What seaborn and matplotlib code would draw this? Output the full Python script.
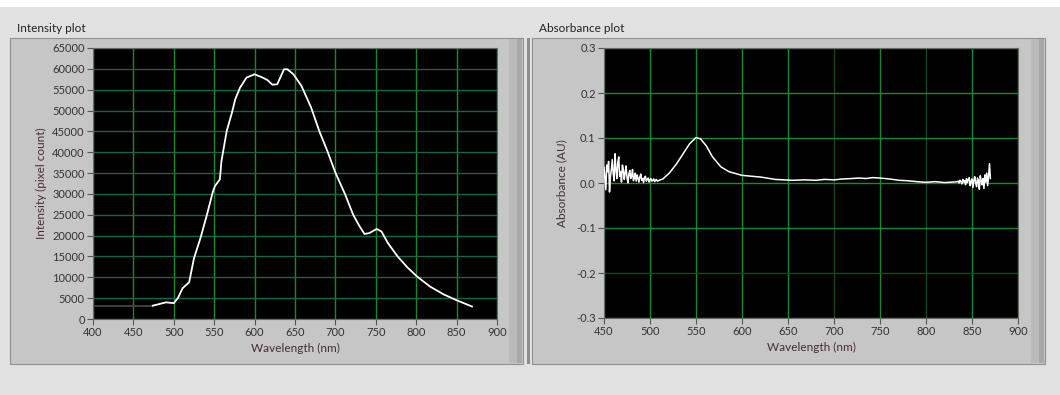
import numpy as np
import pandas as pd
import matplotlib
matplotlib.use("Agg")
import matplotlib.pyplot as plt
from matplotlib.patches import Rectangle
import seaborn as sns

# ---------------- data ----------------
intensity_wl = [474, 490.5, 500, 505, 511, 519, 525, 533, 541, 548.5, 551, 557, 559,
                565.5, 572, 576, 582, 590, 600, 610, 616, 622, 628, 636.5, 640.5,
                648, 658, 670, 680, 690, 700, 712, 722, 730, 736, 742, 751, 757,
                765, 777, 789, 801, 817, 834, 850, 869]
intensity_val = [3200, 4000, 3800, 5000, 7400, 8800, 14600, 19400, 25000, 30650, 31900,
                 33500, 37900, 45100, 49500, 52700, 55500, 57900, 58700, 57900, 57300,
                 56200, 56300, 59900, 59900, 58700, 55900, 50700, 45100, 40300, 35100,
                 29900, 25000, 22200, 20400, 20600, 21600, 21000, 18200, 15000, 12400,
                 10200, 7800, 5900, 4500, 3000]
baseline_wl = [400, 474]
baseline_val = [3000, 3000]

absorb_left_wl = list(range(450, 511))
absorb_left_val = [0.035, 0.010, -0.015, 0.040, 0.025, 0.048, -0.020, 0.015, 0.030, 0.052,
                   0.020, 0.005, 0.065, 0.030, 0.010, 0.045, 0.058, 0.015, 0.025, 0.002,
                   0.040, 0.030, 0.008, 0.022, 0.038, 0.012, 0.000, 0.020, 0.028, 0.010,
                   0.015, 0.030, 0.005, 0.012, 0.022, 0.004, 0.018, 0.010, 0.002, 0.014,
                   0.020, 0.006, 0.010, 0.001, 0.012, 0.015, 0.004, 0.008, 0.011, 0.002,
                   0.007, 0.010, 0.004, 0.006, 0.009, 0.003, 0.006, 0.008, 0.004, 0.005,
                   0.006]
absorb_mid_wl = [514, 521, 529, 536, 543, 550, 555, 561, 568, 577, 586, 600, 610, 621,
                 636, 645, 655, 668, 680, 690, 700, 710, 720, 727, 735, 742, 750, 760,
                 771, 780, 790, 800, 810, 820, 829, 834]
absorb_mid_val = [0.009, 0.022, 0.043, 0.065, 0.087, 0.101, 0.098, 0.083, 0.058, 0.036,
                  0.025, 0.017, 0.015, 0.013, 0.008, 0.007, 0.006, 0.007, 0.006, 0.008,
                  0.007, 0.009, 0.010, 0.011, 0.010, 0.012, 0.011, 0.009, 0.006, 0.005,
                  0.003, 0.0015, 0.003, 0.001, 0.002, 0.003]
absorb_right_wl = list(range(835, 871))
absorb_right_val = [0.004, 0.000, 0.006, 0.003, -0.002, 0.008, 0.002, 0.005, -0.004, 0.010,
                    0.001, 0.007, 0.012, -0.006, 0.004, 0.009, -0.010, 0.006, 0.014, 0.000,
                    -0.008, 0.011, 0.003, -0.014, 0.016, 0.005, -0.004, 0.010, -0.012, 0.018,
                    0.002, 0.022, -0.006, 0.015, 0.043, 0.010]

int_xticks = list(range(400, 901, 50))
int_yticks = list(range(0, 65001, 5000))
abs_xticks = list(range(450, 901, 50))
abs_yticks = [-0.3, -0.2, -0.1, 0.0, 0.1, 0.2, 0.3]
abs_yticklabels = ["-0.3", "-0.2", "-0.1", "0.0", "0.1", "0.2", "0.3"]

# ---------------- figure ----------------
W, H = 1060, 395
fig = plt.figure(figsize=(W / 100, H / 100), dpi=100)
fig.patch.set_facecolor("#e1e1e1")
plt.rcParams['font.family'] = ['Lato', 'DejaVu Sans']

def px_rect(x0, y0, x1, y1, **kw):
    r = Rectangle((x0 / W, 1 - y1 / H), (x1 - x0) / W, (y1 - y0) / H,
                  transform=fig.transFigure, **kw)
    fig.add_artist(r)
    return r

# top white strip
px_rect(0, 0, W, 7, facecolor="white", edgecolor="none", zorder=0)
# panel frames
for (x0, x1) in [(10, 523), (532, 1045)]:
    px_rect(x0, 38, x1, 364, facecolor="#c6c6c6", edgecolor="#909090", linewidth=0.8, zorder=0)
    px_rect(x1 - 14, 39, x1 - 1, 363, facecolor="#bababa", edgecolor="none", zorder=0)
    px_rect(x1 - 6, 39, x1 - 1, 363, facecolor="#a8a8a8", edgecolor="none", zorder=0)
px_rect(527, 38, 530, 364, facecolor="#8c8c8c", edgecolor="none", zorder=0)

def ax_at(x0, y0, x1, y1):
    return fig.add_axes([x0 / W, 1 - y1 / H, (x1 - x0) / W, (y1 - y0) / H])

ax1 = ax_at(93, 48, 497, 319)
ax2 = ax_at(604, 48, 1018, 318)

bright = "#1b8a2e"
dim = "#0e4a1c"
teal = "#17664a"
tick_col = "#333333"
label_col = "#4a2a3a"

def style(ax):
    ax.set_facecolor("black")
    for s in ax.spines.values():
        s.set_color("#6a6a6a")
        s.set_linewidth(0.8)
    ax.tick_params(axis="both", colors="#555555", labelcolor=tick_col, labelsize=8,
                   length=4, width=0.8, direction="out", pad=2)
    ax.set_axisbelow(True)

# ---- intensity ----
df_int = pd.DataFrame({"wl": intensity_wl, "val": intensity_val})
df_base = pd.DataFrame({"wl": baseline_wl, "val": baseline_val})
sns.lineplot(data=df_base, x="wl", y="val", ax=ax1, color="#4a4a4a", linewidth=1.2, zorder=3)
sns.lineplot(data=df_int, x="wl", y="val", ax=ax1, color="white", linewidth=1.3, zorder=4)
ax1.set_xlim(400, 900)
ax1.set_ylim(0, 65000)
ax1.set_xticks(int_xticks)
ax1.set_yticks(int_yticks)
ax1.set_xticklabels([str(t) for t in int_xticks])
ax1.set_yticklabels([str(t) for t in int_yticks])
style(ax1)
ax1.grid(True, which="major", linewidth=1.0)
for ln in ax1.get_xgridlines():
    ln.set_color(bright)
for ln in ax1.get_ygridlines():
    ln.set_color(teal)
ax1.set_xlabel("Wavelength (nm)", color=label_col, fontsize=8.5, labelpad=3)
ax1.set_ylabel("Intensity (pixel count)", color=label_col, fontsize=8.5, labelpad=4)

# ---- absorbance ----
df_a1 = pd.DataFrame({"wl": absorb_left_wl, "val": absorb_left_val})
df_a2 = pd.DataFrame({"wl": absorb_mid_wl, "val": absorb_mid_val})
df_a3 = pd.DataFrame({"wl": absorb_right_wl, "val": absorb_right_val})
df_abs = pd.concat([df_a1, df_a2, df_a3], ignore_index=True)
sns.lineplot(data=df_abs, x="wl", y="val", ax=ax2, color="white", linewidth=1.1,
             zorder=4, estimator=None, sort=True)
ax2.set_xlim(450, 900)
ax2.set_ylim(-0.3, 0.3)
ax2.set_xticks(abs_xticks)
ax2.set_yticks(abs_yticks)
ax2.set_xticklabels([str(t) for t in abs_xticks])
ax2.set_yticklabels(abs_yticklabels)
style(ax2)
ax2.grid(True, which="major", linewidth=1.0)
for t, ln in zip(abs_xticks, ax2.get_xgridlines()):
    ln.set_color(dim if t in (700, 800) else bright)
for t, ln in zip(abs_yticks, ax2.get_ygridlines()):
    ln.set_color(dim if abs(t + 0.2) < 1e-9 else bright)
ax2.set_xlabel("Wavelength (nm)", color=label_col, fontsize=8.5, labelpad=3)
ax2.set_ylabel("Absorbance (AU)", color=label_col, fontsize=8.5, labelpad=6)

# panel titles
fig.text(17 / W, 1 - 28 / H, "Intensity plot", fontsize=8.5, color="#222222", va="center", ha="left")
fig.text(539 / W, 1 - 28 / H, "Absorbance plot", fontsize=8.5, color="#222222", va="center", ha="left")

fig.savefig("out.png", dpi=100, facecolor=fig.get_facecolor())
